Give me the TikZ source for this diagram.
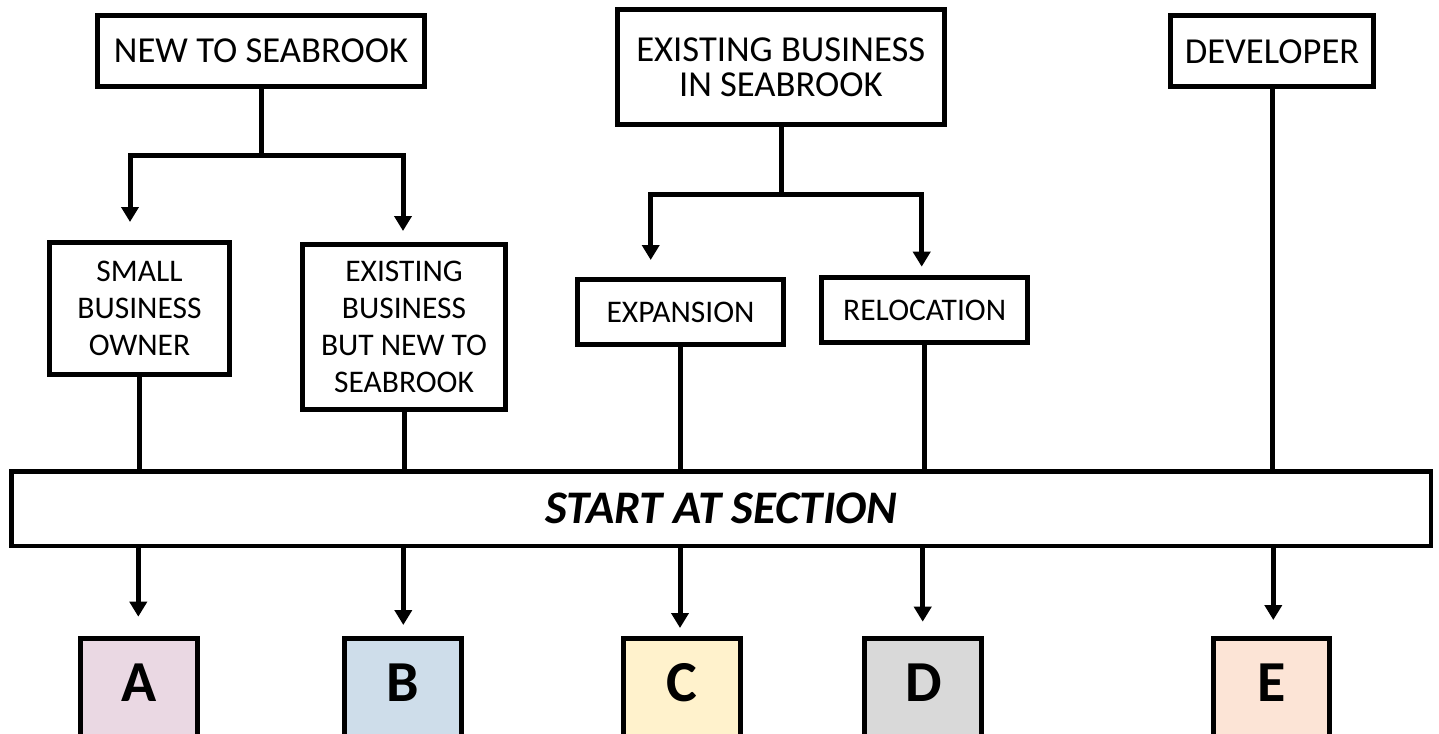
\documentclass[tikz,border=0pt]{standalone}
\usepackage{fontspec}
\setmainfont{Carlito}
\usetikzlibrary{arrows.meta}
\definecolor{fillA}{HTML}{EAD8E3}
\definecolor{fillB}{HTML}{CEDDEA}
\definecolor{fillC}{HTML}{FFF2CC}
\definecolor{fillD}{HTML}{D9D9D9}
\definecolor{fillE}{HTML}{FCE4D6}
\begin{document}
\begin{tikzpicture}[x=1pt,y=-1pt,
  box/.style={draw=black, line width=5pt, fill=white, inner sep=0pt, align=center},
  topfont/.style={font=\fontsize{36.6}{35}\selectfont},
  midfont/.style={font=\fontsize{31.5}{37}\selectfont},
  conn/.style={line width=5pt},
  arr/.style={line width=5pt, -{Triangle[width=17pt,length=15pt]}},
  letbox/.style={draw=black, line width=5pt, minimum width=116.7pt, minimum height=142pt, inner sep=0pt},
  letter/.style={font=\fontsize{58}{60}\selectfont\bfseries, inner sep=0pt}
]
\useasboundingbox (0,0) rectangle (1439,733);
\clip (0,0) rectangle (1439,733);

% top row
\node[box, topfont, minimum width=327pt, minimum height=71.3pt] (new) at (261,51.2) {NEW TO SEABROOK};
\node[box, topfont, minimum width=326.7pt, minimum height=115pt] (exist) at (780.8,67.3) {EXISTING BUSINESS\\IN SEABROOK};
\node[box, topfont, minimum width=202.4pt, minimum height=71pt] (dev) at (1272,51.3) {DEVELOPER};

% second row
\node[box, midfont, minimum width=180pt, minimum height=132pt] (small) at (139.5,308.5) {SMALL\\BUSINESS\\OWNER};
\node[box, midfont, minimum width=203pt, minimum height=165pt] (exnew) at (404,326.7) {EXISTING\\BUSINESS\\BUT NEW TO\\SEABROOK};
\node[box, midfont, minimum width=206pt, minimum height=65pt] (expan) at (680.5,312.3) {EXPANSION};
\node[box, midfont, minimum width=205.7pt, minimum height=65pt] (reloc) at (924.7,310) {RELOCATION};

% bar
\node[box, line width=4.7pt, minimum width=1419.3pt, minimum height=74.3pt,
      font=\fontsize{46.7}{50}\selectfont\bfseries\itshape] (bar) at (721.3,508.8) {START AT SECTION};

% letter boxes
\node[letbox, fill=fillA] (boxA) at (139,709) {};
\node[letbox, fill=fillB] (boxB) at (403,709) {};
\node[letbox, fill=fillC] (boxC) at (682,709) {};
\node[letbox, fill=fillD] (boxD) at (923.3,709) {};
\node[letbox, fill=fillE] (boxE) at (1271.5,709) {};
\node[letter] (lA) at (139,682.7) {A};
\node[letter] (lB) at (403,682.7) {B};
\node[letter] (lC) at (682,682.7) {C};
\node[letter] (lD) at (923.3,682.7) {D};
\node[letter] (lE) at (1271.5,682.7) {E};

% junctions and arrow tips
\coordinate (j1) at (261,155);
\coordinate (j2) at (781,194.3);
\coordinate (tSmall) at (130,222);
\coordinate (tExnew) at (403,231);
\coordinate (tExpan) at (650.7,260);
\coordinate (tReloc) at (921.7,266.7);
\coordinate (tA) at (138.3,616.7);
\coordinate (tB) at (403.3,625);
\coordinate (tC) at (680,628);
\coordinate (tD) at (922.7,621.7);
\coordinate (tE) at (1273.3,620);

% top connectors
\draw[conn] (new.south) -- (j1);
\draw[arr] (j1) -| (tSmall);
\draw[arr] (j1) -| (tExnew);
\draw[conn] (exist.south -| j2) -- (j2);
\draw[arr] (j2) -| (tExpan);
\draw[arr] (j2) -| (tReloc);

% to bar
\draw[conn] (small.south) -- (small.south |- bar.north);
\draw[conn] (exnew.south) -- (exnew.south |- bar.north);
\draw[conn] (expan.south) -- (expan.south |- bar.north);
\draw[conn] (reloc.south) -- (reloc.south |- bar.north);
\draw[conn] (dev.south) -- (dev.south |- bar.north);

% bar to letters
\draw[arr] (bar.south -| tA) -- (tA);
\draw[arr] (bar.south -| tB) -- (tB);
\draw[arr] (bar.south -| tC) -- (tC);
\draw[arr] (bar.south -| tD) -- (tD);
\draw[arr] (bar.south -| tE) -- (tE);
\end{tikzpicture}
\end{document}
